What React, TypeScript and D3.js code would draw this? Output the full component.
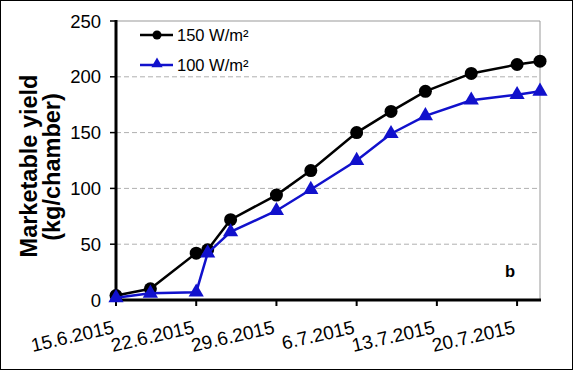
import React from 'react';
import * as d3 from 'd3';

const dates = ['2015-06-15', '2015-06-18', '2015-06-22', '2015-06-23', '2015-06-25', '2015-06-29', '2015-07-02',
  '2015-07-06', '2015-07-09', '2015-07-12', '2015-07-16', '2015-07-20', '2015-07-22'];
const yield150 = [4, 10, 42, 45, 72, 94, 116, 150, 169, 187, 203, 211, 214];
const yield100 = [2, 6, 7, 42, 61, 80, 99, 125, 149, 165, 179, 184, 187];
const tickDates = ['2015-06-15', '2015-06-22', '2015-06-29', '2015-07-06', '2015-07-13', '2015-07-20'];
const yTicks = [0, 50, 100, 150, 200, 250];
const seriesNames = ['150 W/m²', '100 W/m²'];

const W = 574;
const H = 371;
const font = '"Liberation Sans", Arial, sans-serif';
const blue = '#1111cc';

export default function App() {
  const parse = d3.timeParse('%Y-%m-%d');
  const fmt = d3.timeFormat('%-d.%-m.%Y');
  const x = d3.scaleTime()
    .domain([parse('2015-06-15')!, parse('2015-07-22')!])
    .range([116, 540]);
  const y = d3.scaleLinear().domain([0, 250]).range([300, 21]);

  const line = d3.line<number>()
    .x((d, i) => x(parse(dates[i])!))
    .y(d => y(d));

  const tri = d3.symbol().type(d3.symbolTriangle).size(100)()!;
  const triSmall = d3.symbol().type(d3.symbolTriangle).size(55)()!;

  return (
    <svg width={W} height={H} style={{ position: 'absolute', left: 0, top: 0, background: '#fff' }} fontFamily={font}>
      <rect x={0.5} y={0.5} width={W - 2} height={H - 2} fill="#fff" stroke="#000" strokeWidth={1} />

      {/* grid */}
      {yTicks.slice(1, -1).map(t => (
        <line key={t} x1={116} x2={540} y1={y(t)} y2={y(t)} stroke="#b0b0b0" strokeWidth={1} strokeDasharray="5,3" />
      ))}
      <line x1={116} x2={540} y1={y(250)} y2={y(250)} stroke="#999" strokeWidth={1} />
      <line x1={540} x2={540} y1={y(250)} y2={y(0)} stroke="#999" strokeWidth={1} />

      {/* axes */}
      <line x1={116} x2={116} y1={y(250) - 1} y2={y(0) + 1.5} stroke="#000" strokeWidth={3} />
      <line x1={114.5} x2={541} y1={y(0)} y2={y(0)} stroke="#000" strokeWidth={3} />
      {yTicks.map(t => (
        <g key={t}>
          <line x1={110} x2={116} y1={y(t)} y2={y(t)} stroke="#000" strokeWidth={1.5} />
          <text x={101} y={y(t)} dy="0.36em" textAnchor="end" fontSize={18.5}>{t}</text>
        </g>
      ))}
      {tickDates.map(d => {
        const tx = x(parse(d)!);
        return (
          <g key={d}>
            <line x1={tx} x2={tx} y1={y(0)} y2={y(0) + 6} stroke="#000" strokeWidth={2} />
            <text transform={`translate(${tx - 1},${y(0) + 33}) rotate(-13)`} textAnchor="end" fontSize={19}>
              {fmt(parse(d)!)}
            </text>
          </g>
        );
      })}

      {/* y title */}
      <text transform="translate(37,166) rotate(-90)" textAnchor="middle" fontSize={23.5} fontWeight="bold">Marketable yield</text>
      <text transform="translate(60,167) rotate(-90)" textAnchor="middle" fontSize={23.5} fontWeight="bold">(kg/chamber)</text>

      {/* series */}
      <path d={line(yield150)!} fill="none" stroke="#000" strokeWidth={2.5} />
      {yield150.map((v, i) => (
        <circle key={i} cx={x(parse(dates[i])!)} cy={y(v)} r={6.5} fill="#000" />
      ))}
      <path d={line(yield100)!} fill="none" stroke={blue} strokeWidth={2.5} />
      {yield100.map((v, i) => (
        <path key={i} d={tri} transform={`translate(${x(parse(dates[i])!)},${y(v)})`} fill={blue} />
      ))}

      {/* legend */}
      <line x1={140} x2={173} y1={35} y2={35} stroke="#000" strokeWidth={2.5} />
      <circle cx={157} cy={35} r={4.5} fill="#000" />
      <text x={177} y={41} fontSize={16.5}>{seriesNames[0]}</text>
      <line x1={140} x2={173} y1={65} y2={65} stroke={blue} strokeWidth={2.5} />
      <path d={triSmall} transform="translate(157,64)" fill={blue} />
      <text x={177} y={71} fontSize={16.5}>{seriesNames[1]}</text>

      <text x={505} y={277} fontSize={16.5} fontWeight="bold">b</text>
    </svg>
  );
}
